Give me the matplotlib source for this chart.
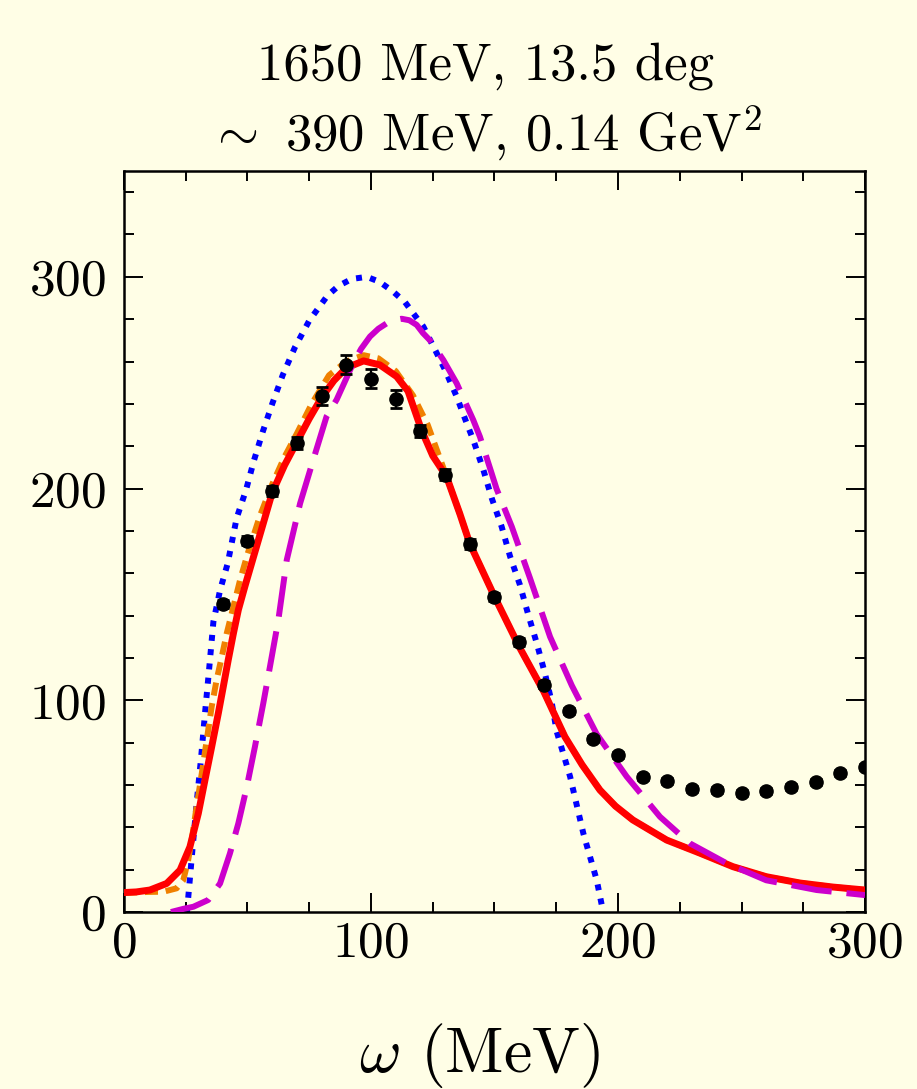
import matplotlib
matplotlib.use("Agg")
import matplotlib.pyplot as plt
from matplotlib.ticker import MultipleLocator

plt.rcParams['font.family'] = 'serif'
plt.rcParams['font.serif'] = ['cmr10']
plt.rcParams['mathtext.fontset'] = 'cm'
plt.rcParams['axes.formatter.use_mathtext'] = True

# measured cross section (omega in MeV)
omega_data = [40, 50, 60, 70, 80, 90, 100, 110, 120, 130, 140, 150, 160, 170,
              180, 190, 200, 210, 220, 230, 240, 250, 260, 270, 280, 290, 300]
xsec_data = [145.5, 175.4, 198.9, 221.7, 243.7, 258.4, 251.9, 242.3, 227.3, 206.6,
             173.8, 148.8, 127.4, 107.4, 95.0, 81.7, 74.2, 63.8, 61.9, 58.1,
             57.6, 56.2, 57.2, 59.1, 61.4, 65.7, 68.5]
xsec_err = [2.0, 2.0, 2.5, 2.8, 4.3, 4.5, 4.6, 4.1, 2.8, 2.5, 2.2, 2.0, 1.8, 1.6,
            1.5, 1.5, 1.5, 1.5, 1.5, 1.5, 1.5, 1.5, 1.5, 1.5, 1.5, 1.5, 1.5]

# solid red model
omega_red = [0, 5, 10.5, 17.3, 22.7, 26.7, 30.1, 32.8, 35.5, 38.2, 40.2, 42.2, 44.3,
             46.3, 49, 52, 55, 58, 60, 65, 70, 75, 80, 85, 90, 97, 103.6, 110.4,
             115, 120.5, 125, 130.6, 136, 140, 150, 160, 170, 178.5, 185.5, 192.7,
             199, 206, 219.7, 233, 246.6, 260, 273.7, 287, 300]
xsec_red = [9.2, 9.5, 10.4, 13.5, 19.8, 30.8, 46.6, 62.4, 78, 93.9, 106.4, 119, 131.6,
            142.7, 154, 166, 178, 190, 198, 211, 222, 233, 243, 251, 257, 260.3, 258.4,
            252.9, 246, 227.5, 215.5, 205.6, 188, 174, 149, 125.3, 104, 82.8, 69.5, 57.6,
            50, 43.5, 34, 27.9, 21.4, 16.7, 13.7, 11.8, 10.4]

# orange dashed model
omega_orange = [0, 10, 16, 21.3, 24, 26, 27.4, 29.4, 31.5, 33.5, 35.5, 37.5, 39.6,
                41.6, 44.3, 47, 50, 55, 60, 65, 70, 76, 83, 90, 97, 103, 110, 117,
                123, 130.6, 136, 140, 150, 160, 170, 178.5, 185.5, 192.7, 199, 206,
                219.7, 233, 246.6, 260, 273.7, 287, 300]
xsec_orange = [9.0, 9.5, 9.6, 11.2, 15, 24.6, 34, 49.7, 65.5, 81.2, 97, 109.6, 120.6,
               131.6, 144.2, 156.8, 169, 187, 202, 215, 226, 240, 253.5, 260, 263, 261.5,
               255.5, 244, 230, 205.6, 188, 174, 149, 125.3, 104, 82.8, 69.5, 57.6, 50,
               43.5, 34, 27.9, 21.4, 16.7, 13.7, 11.8, 10.4]

# blue dotted model
omega_blue = [25.5, 27.7, 29.4, 31.2, 32.8, 34.5, 36.2, 38.9, 42.0, 45.6, 49.4, 52.6,
              56.2, 60.1, 64.3, 69.2, 75.0, 82.3, 86.8, 92.2, 98.3, 103.4, 109.0, 113.8,
              117.1, 121.2, 126.6, 130.0, 134.7, 138.7, 141.4, 145.5, 148.9, 152.9,
              156.3, 160.3, 163.7, 167.1, 170.4, 173.1, 175.2, 180.6, 186.0, 191.4, 194.0]
xsec_blue = [0, 29.3, 51.3, 72.6, 93.9, 115.1, 137.1, 152, 164.7, 186, 199.3, 213.2,
             226.9, 240.3, 253.7, 266.7, 279.3, 291, 295.7, 299, 300, 297.7, 293, 288,
             282.8, 276.5, 264, 256, 243.4, 231, 223, 208.8, 195.4, 182, 168, 154.5,
             140.3, 127, 112.8, 99.4, 85.2, 64, 37, 15, 0]

# magenta long-dashed model
omega_mag = [19, 24, 28.1, 34.1, 38.9, 42.9, 46.3, 49.7, 53, 56.4, 59.1, 62.5, 65.9,
             71.3, 77, 82, 86.1, 92.8, 96, 99.6, 103, 106.3, 109, 112.4, 115.5, 118.5,
             121, 123.9, 129.3, 134.7, 141.4, 144.1, 148.9, 150.8, 157, 164.4, 172.5,
             181.3, 191.4, 203.5, 217, 229, 244, 260, 280.4, 300]
xsec_mag = [0, 1.5, 2.5, 5.7, 13.5, 27.7, 41.9, 59, 78, 98.6, 115.9, 138, 166.3,
            193, 215, 234, 242, 259.2, 266, 271.8, 275.5, 278, 279.5, 280.2, 279.5, 277.3,
            273.5, 270, 260.7, 249.7, 232.4, 224.5, 207, 200, 182, 157.6, 130,
            107, 84, 64, 45, 32.5, 23, 15, 10.4, 8]

bg = '#fffee6'
fig = plt.figure(figsize=(9.17, 10.89), dpi=100, facecolor=bg)
ax = fig.add_axes([0.1352, 0.1625, 0.8081, 0.6805], facecolor=bg)

ax.plot(omega_blue, xsec_blue, color='#0000ff', lw=4.3, ls=(0, (1, 1.4)), zorder=2)
ax.plot(omega_orange, xsec_orange, color='#f08000', lw=4.3, ls=(0, (2.2, 1.3)), zorder=3)
ax.plot(omega_red, xsec_red, color='#ff0000', lw=5, zorder=4)
ax.plot(omega_mag, xsec_mag, color='#cc00cc', lw=4.3, ls=(0, (6.8, 2.5)), zorder=5)
ax.errorbar(omega_data, xsec_data, yerr=xsec_err, fmt='o', color='black', ms=9.5,
            elinewidth=1.6, capsize=4.5, capthick=2, zorder=6)

ax.set_xlim(0, 300)
ax.set_ylim(0, 350)
ax.xaxis.set_major_locator(MultipleLocator(100))
ax.xaxis.set_minor_locator(MultipleLocator(25))
ax.yaxis.set_major_locator(MultipleLocator(100))
ax.yaxis.set_minor_locator(MultipleLocator(20))
ax.tick_params(which='both', direction='in', top=True, right=True, width=1.4)
ax.tick_params(which='major', length=14)
ax.tick_params(which='minor', length=7)
ax.tick_params(axis='x', which='major', labelsize=37, pad=6)
ax.tick_params(axis='y', which='major', labelsize=37, pad=13)
for sp in ax.spines.values():
    sp.set_linewidth(1.8)

fig.text(0.529, 0.927, '1650 MeV, 13.5 deg', ha='center', va='baseline', fontsize=38)
fig.text(0.529, 0.862, r'$\sim$ 390 MeV, 0.14 GeV$^2$', ha='center', va='baseline', fontsize=38)
fig.text(0.523, 0.016, r'$\omega$ (MeV)', ha='center', va='baseline', fontsize=46)

fig.savefig('out.png', dpi=100, facecolor=bg)
